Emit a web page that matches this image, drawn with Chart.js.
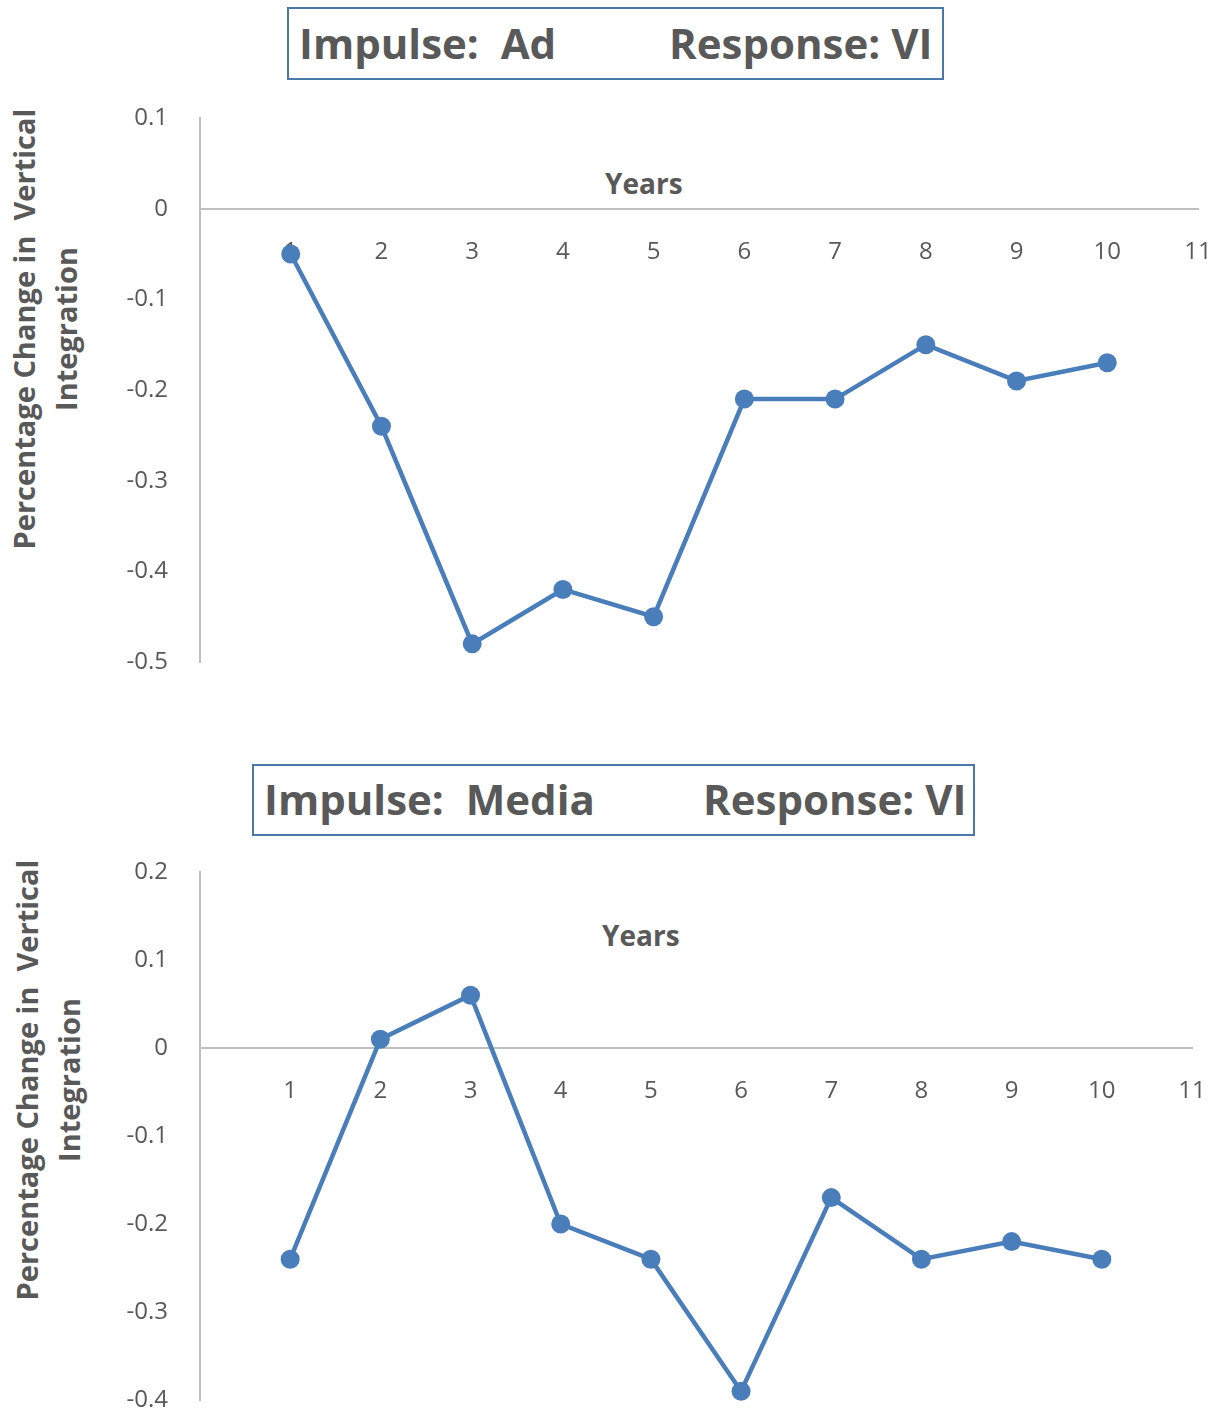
<!DOCTYPE html>
<html>
<head>
<meta charset="utf-8">
<script src="https://cdn.jsdelivr.net/npm/chart.js@4"></script>
<style>
  html, body { margin: 0; padding: 0; background: #fff; }
  body { width: 1225px; height: 1414px; position: relative; overflow: hidden; font-family: "Open Sans", sans-serif; }
  .panel { position: absolute; left: 0; width: 1225px; }
  .box { position: absolute; border: 2px solid #4a78a8; box-sizing: border-box; background: #fff; }
  .txt { position: absolute; color: #595959; font-weight: bold; white-space: pre; line-height: 1; }
  .ytitle { position: absolute; color: #595959; font-weight: bold; white-space: pre; text-align: center;
            transform: translate(-50%, -50%) rotate(-90deg); line-height: 42px; font-size: 29px; }
</style>
</head>
<body>

<div class="box" style="left:287px;top:7px;width:657px;height:73px;"></div>
<div class="txt" style="left:299px;top:22px;font-size:42px;">Impulse:  Ad</div>
<div class="txt" style="left:669px;top:22px;font-size:42px;">Response: VI</div>
<div class="ytitle" style="left:45px;top:329px;">Percentage Change in  Vertical
Integration</div>
<div class="txt" style="left:605px;top:169px;font-size:28px;">Years</div>

<div class="box" style="left:252px;top:764px;width:723px;height:72px;"></div>
<div class="txt" style="left:264px;top:778px;font-size:42px;">Impulse:  Media</div>
<div class="txt" style="left:703px;top:778px;font-size:42px;">Response: VI</div>
<div class="ytitle" style="left:48px;top:1080px;">Percentage Change in  Vertical
Integration</div>
<div class="txt" style="left:602px;top:921px;font-size:28px;">Years</div>

<div class="panel" style="top:90px;height:610px;"><canvas id="c1"></canvas></div>
<div class="panel" style="top:845px;height:569px;"><canvas id="c2"></canvas></div>

<script>
// Impulse-response values, years 1..10
const years = [1, 2, 3, 4, 5, 6, 7, 8, 9, 10];
const adResponse = [-0.05, -0.24, -0.48, -0.42, -0.45, -0.21, -0.21, -0.15, -0.19, -0.17];
const mediaResponse = [-0.24, 0.01, 0.06, -0.20, -0.24, -0.39, -0.17, -0.24, -0.22, -0.24];

// axis ranges
const xRange = [0, 11];
const adYRange = [-0.5, 0.1];
const mediaYRange = [-0.4, 0.2];

const LINE = '#4a7ebb';
const AXIS = '#bfbfbf';
const TEXT = '#595959';
const tickFont = { family: 'Open Sans', size: 24 };

// keep the plot area exactly where the layout padding puts it
function noScalePadding(s) {
  s.paddingTop = 0; s.paddingBottom = 0; s.paddingLeft = 0; s.paddingRight = 0;
}

function makeChart(canvasId, values, yRange, padding) {
  const points = years.map((x, i) => ({ x: x, y: values[i] }));
  return new Chart(document.getElementById(canvasId), {
    type: 'line',
    data: {
      datasets: [{
        data: points,
        borderColor: LINE,
        backgroundColor: LINE,
        borderWidth: 4.5,
        pointRadius: 9.5,
        pointHoverRadius: 9.5,
        pointBorderWidth: 0,
        pointBackgroundColor: LINE,
        tension: 0,
        fill: false,
        clip: false
      }]
    },
    options: {
      responsive: true,
      maintainAspectRatio: false,
      animation: false,
      events: [],
      layout: { padding: padding, autoPadding: false },
      plugins: { legend: { display: false }, tooltip: { enabled: false }, title: { display: false } },
      scales: {
        x: {
          type: 'linear',
          position: { y: 0 },
          min: xRange[0],
          max: xRange[1],
          z: 1,
          grid: { display: false, drawTicks: false },
          border: { display: true, color: AXIS, width: 2 },
          afterBuildTicks: s => { s.ticks = s.ticks.filter(t => t.value !== 0); },
          afterFit: noScalePadding,
          ticks: { stepSize: 1, autoSkip: false, maxRotation: 0, padding: 29, color: TEXT, font: tickFont,
                   callback: v => String(v) }
        },
        y: {
          type: 'linear',
          min: yRange[0],
          max: yRange[1],
          grid: { display: false, drawTicks: false },
          border: { display: true, color: AXIS, width: 2 },
          afterFit: s => { noScalePadding(s); s.width = 200; },
          ticks: { stepSize: 0.1, padding: 32, color: TEXT, font: tickFont,
                   callback: v => (Math.abs(v) < 1e-9 ? '0' : (Math.round(v * 10) / 10).toString()) }
        }
      }
    }
  });
}

makeChart('c1', adResponse, adYRange, { left: 0, right: 27, top: 28, bottom: 38 });
makeChart('c2', mediaResponse, mediaYRange, { left: 0, right: 33, top: 27, bottom: 14 });
</script>
</body>
</html>
